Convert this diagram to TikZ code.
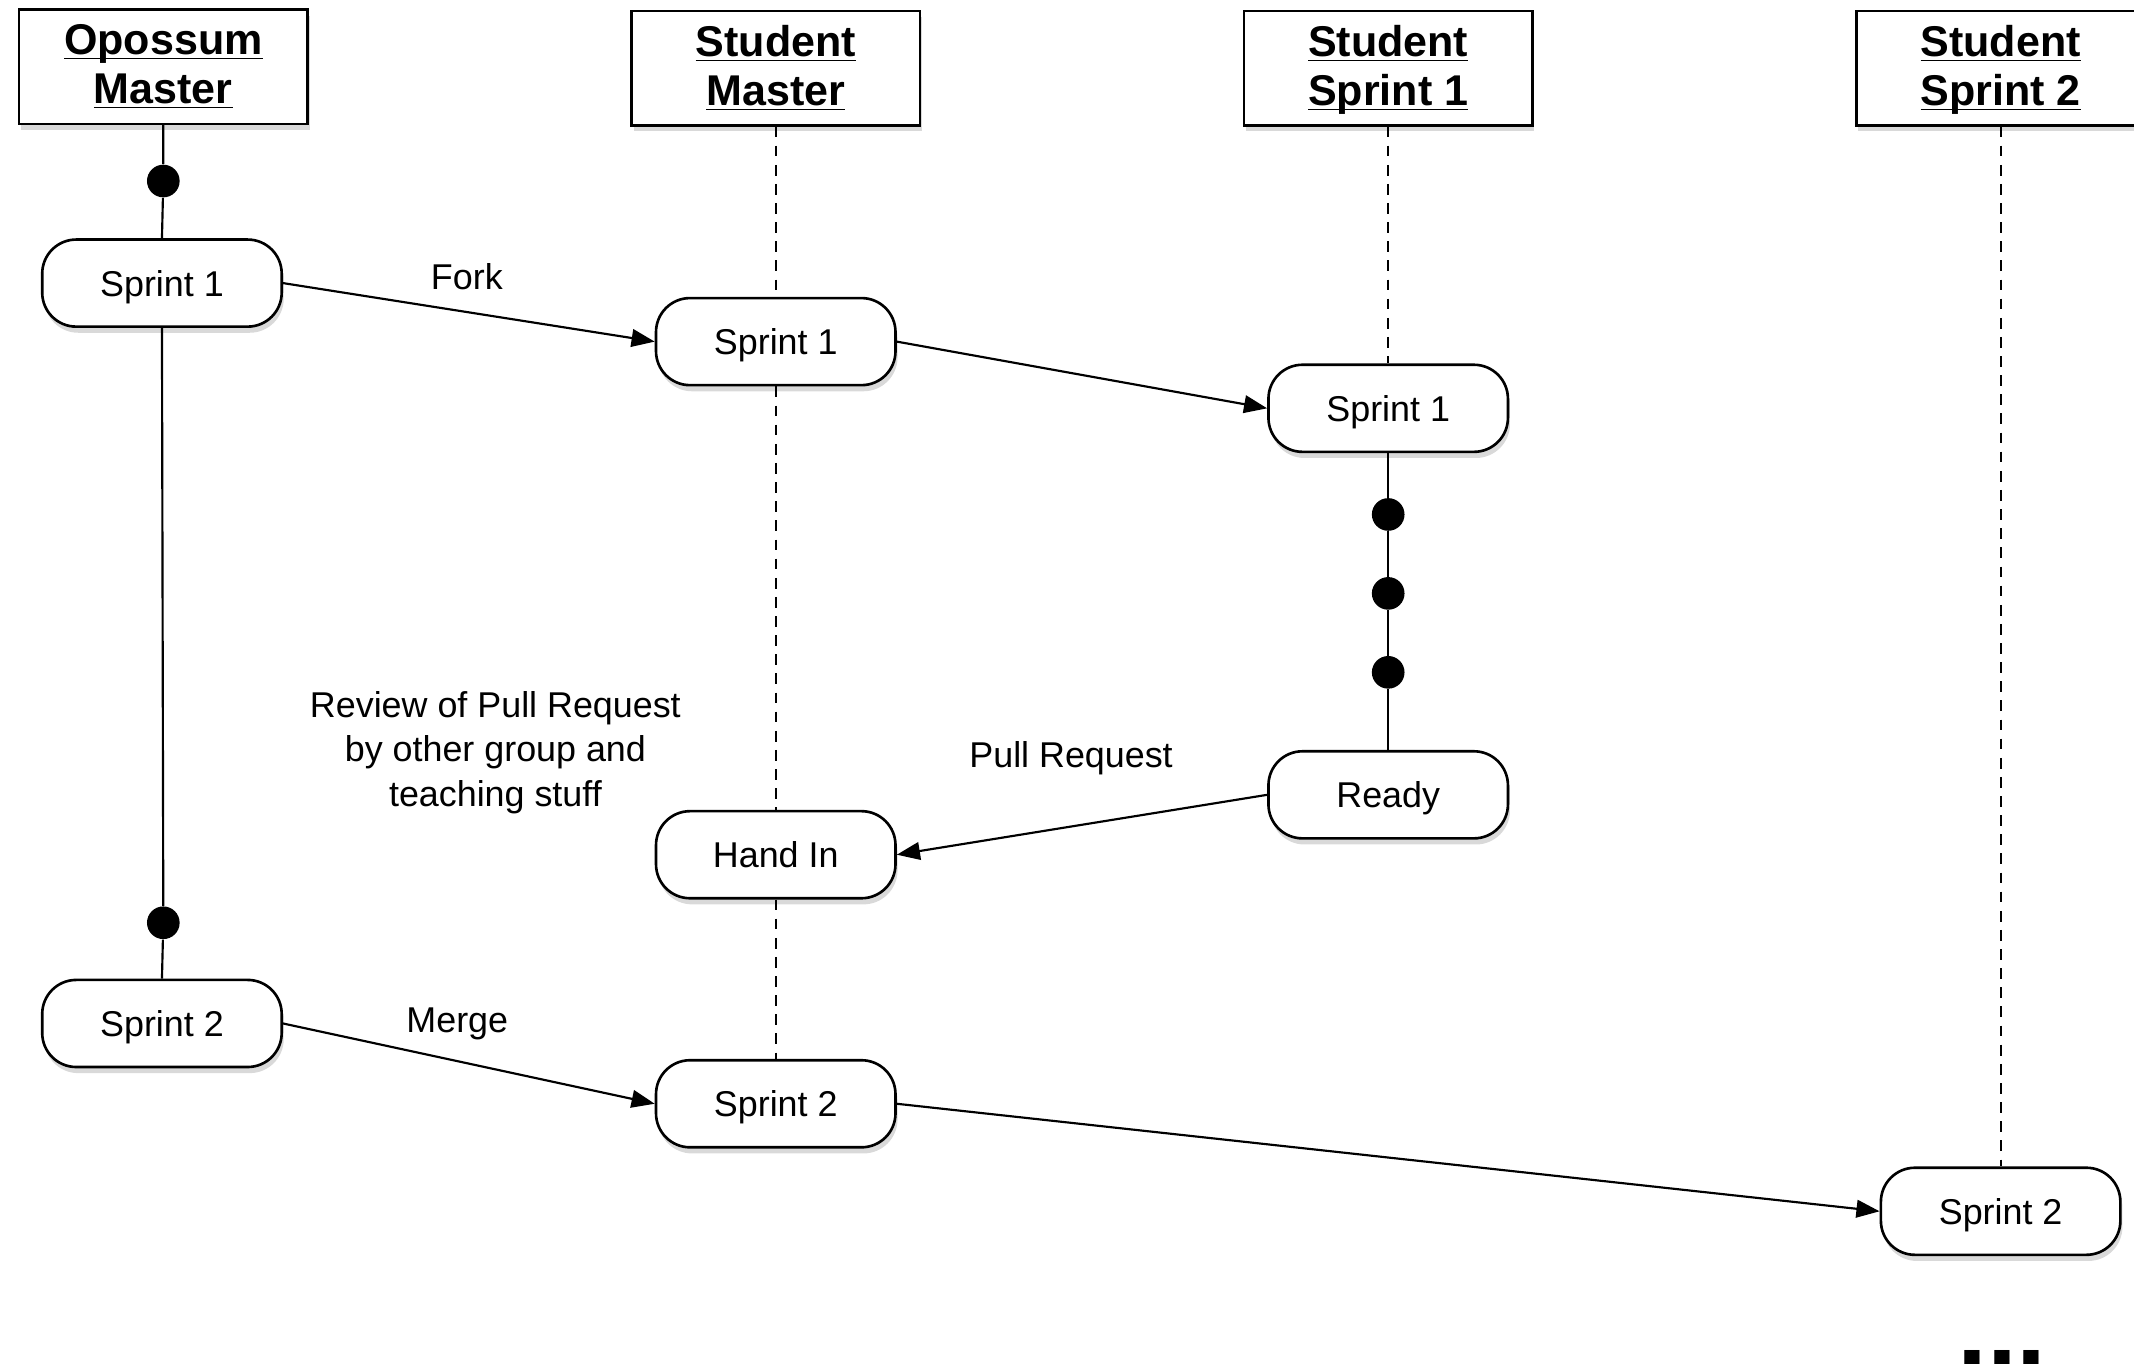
\documentclass[tikz,border=0pt]{standalone}
\usepackage{fontspec}
\setmainfont{Liberation Sans}
\usetikzlibrary{arrows.meta, shadows}
\newcommand{\headline}[1]{\underline{\raisebox{0pt}[\height][0pt]{#1}}}

\begin{document}
\begin{tikzpicture}[x=0.02cm, y=-0.02cm,
  head/.style={rectangle, draw, line width=1.1pt, fill=white,
              minimum width=4.24cm, minimum height=1.68cm, align=center,
              font=\fontsize{18}{20.5}\selectfont\bfseries,
              drop shadow={shadow xshift=0.3mm, shadow yshift=-0.9mm, opacity=0.3}},
  state/.style={rectangle, rounded corners=0.5cm, draw, line width=1.1pt, fill=white,
              minimum width=3.52cm, minimum height=1.28cm,
              text height=10.9pt, text depth=0pt,
              font=\fontsize{15}{18}\selectfont,
              drop shadow={shadow xshift=0.3mm, shadow yshift=-0.9mm, opacity=0.3}},
  commit/.style={circle, fill, inner sep=0pt, minimum size=0.48cm},
  life/.style={line width=0.9pt},
  dashlife/.style={line width=0.9pt, dash pattern=on 4.5pt off 3.5pt},
  arrow/.style={-{Triangle[length=3.4mm, width=2.6mm]}, line width=0.9pt},
  lbl/.style={font=\fontsize{15}{18.7}\selectfont, align=center}
]
\useasboundingbox (0,0) rectangle (1568,1002);

% lifeline heads
\node[head] (omaster) at (120,49) {\headline{Opossum}\\\headline{Master}};
\node[head] (smaster) at (570,50) {\headline{Student}\\\headline{Master}};
\node[head] (ssprint1) at (1020,50) {\headline{Student}\\\headline{Sprint 1}};
\node[head] (ssprint2) at (1470,50) {\headline{Student}\\\headline{Sprint 2}};

% opossum master
\node[commit] (omc1) at (120,133) {};
\node[state] (om1) at (119,208) {Sprint 1};
\node[commit] (omc2) at (120,678) {};
\node[state] (om2) at (119,752) {Sprint 2};
\draw[life] (omaster.south) -- (omc1) -- (om1.north);
\draw[life] (om1.south) -- (omc2) -- (om2.north);

% student master
\node[state] (sm1) at (570,251) {Sprint 1};
\node[state] (handin) at (570,628) {Hand In};
\node[state] (sm2) at (570,811) {Sprint 2};
\draw[dashlife] (smaster.south) -- (sm1.north);
\draw[dashlife] (sm1.south) -- (handin.north);
\draw[dashlife] (handin.south) -- (sm2.north);

% student sprint 1
\node[state] (ss1) at (1020,300) {Sprint 1};
\node[commit] (ssc1) at (1020,378) {};
\node[commit] (ssc2) at (1020,436) {};
\node[commit] (ssc3) at (1020,494) {};
\node[state] (ready) at (1020,584) {Ready};
\draw[dashlife] (ssprint1.south) -- (ss1.north);
\draw[life] (ss1.south) -- (ssc1) -- (ssc2) -- (ssc3) -- (ready.north);

% student sprint 2
\node[state] (ss2) at (1470,890) {Sprint 2};
\draw[dashlife] (ssprint2.south) -- (ss2.north);

% arrows
\draw[arrow] (om1.east) -- (sm1.west);
\draw[arrow] (sm1.east) -- (ss1.west);
\draw[arrow] (ready.west) -- (handin.east);
\draw[arrow] (om2.east) -- (sm2.west);
\draw[arrow] (sm2.east) -- (ss2.west);

% labels
\node[lbl] (fork) at (343,203) {Fork};
\node[lbl] (pull) at (787,557) {Pull Request};
\node[lbl] (merge) at (336,752) {Merge};
\node[lbl] (review) at (364,553) {Review of Pull Request\\by other group and\\teaching stuff};
\node[font=\fontsize{45}{50}\selectfont\bfseries, anchor=base] (more) at (1471,1004) {...};
\end{tikzpicture}
\end{document}
